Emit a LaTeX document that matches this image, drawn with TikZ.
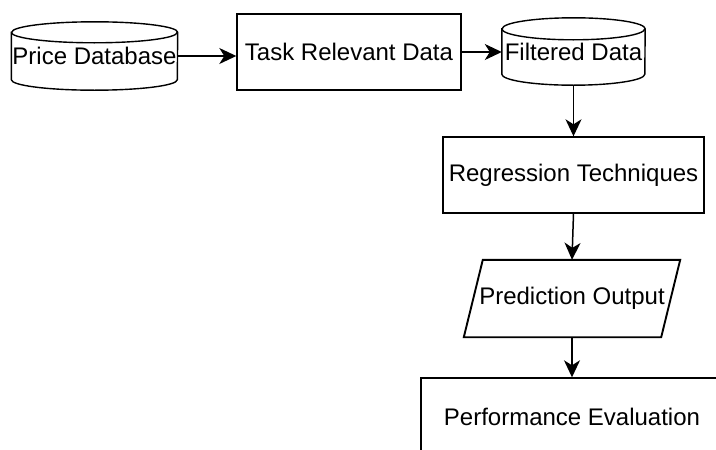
\documentclass[tikz,border=0pt]{standalone}
\usepackage{fontspec}
\setmainfont{Liberation Sans}
\usetikzlibrary{arrows.meta}

\begin{document}
\begin{tikzpicture}[
  x=1pt, y=-1pt,
  every node/.style = {font=\fontsize{24}{27}\selectfont, inner sep=0pt},
  outline/.style = {draw, line width=1.4pt, fill=white},
  procbox/.style = {rectangle, outline},
  flow/.style = {-{Stealth[length=17pt, width=16pt, inset=5pt]}, line width=1.5pt},
]
\useasboundingbox[fill=white] (0,0) rectangle (716,450);

% ── Top row: source data ────────────────────────────────────────────────────
\node[minimum width=166pt, minimum height=68pt] (price) at (94.5, 56) {};
\draw[outline]
  ([yshift=-10.5pt]price.north west) -- ([yshift=10.5pt]price.south west)
  arc[start angle=180, end angle=360, x radius=83pt, y radius=10.5pt]
  -- ([yshift=-10.5pt]price.north east)
  arc[start angle=0, end angle=180, x radius=83pt, y radius=10.5pt] -- cycle;
\draw[line width=1.4pt] ([yshift=-10.5pt]price.north west)
  arc[start angle=180, end angle=360, x radius=83pt, y radius=10.5pt];
\node at (price) {Price Database};

\node[procbox, minimum width=224pt, minimum height=76pt] (task) at (349, 52)
  {Task Relevant Data};

\node[minimum width=143pt, minimum height=67pt] (filtered) at (573.5, 51.5) {};
\draw[outline]
  ([yshift=-11pt]filtered.north west) -- ([yshift=11pt]filtered.south west)
  arc[start angle=180, end angle=360, x radius=71.5pt, y radius=11pt]
  -- ([yshift=-11pt]filtered.north east)
  arc[start angle=0, end angle=180, x radius=71.5pt, y radius=11pt] -- cycle;
\draw[line width=1.4pt] ([yshift=-11pt]filtered.north west)
  arc[start angle=180, end angle=360, x radius=71.5pt, y radius=11pt];
\node at (filtered) {Filtered Data};

% ── Right column: model and results ─────────────────────────────────────────
\node[procbox, minimum width=261pt, minimum height=76pt] (regress) at (573.5, 175)
  {Regression Techniques};

% slanted input/output box, outline drawn round the node
\node[minimum width=197pt, minimum height=77pt] (predict) at (572, 298.5) {};
\draw[outline, line width=1.9pt]
  ([xshift=9.5pt]predict.north west) -- ([xshift=9.5pt]predict.north east)
  -- ([xshift=-9.5pt]predict.south east) -- ([xshift=-9.5pt]predict.south west)
  -- cycle;
\node at (predict) {Prediction Output};

\node[procbox, minimum width=302pt, minimum height=78pt] (perf) at (572, 417)
  {Performance Evaluation};

% ── Flow ────────────────────────────────────────────────────────────────────
\draw[flow] (price.east) -- (price.east -| task.west);
\draw[flow] (task.east) -- (task.east -| filtered.west);
\draw[flow] (filtered.south) -- (regress.north);
\draw[flow] (regress.south) -- (predict.north);
\draw[flow] (predict.south) -- (perf.north);

\end{tikzpicture}
\end{document}
